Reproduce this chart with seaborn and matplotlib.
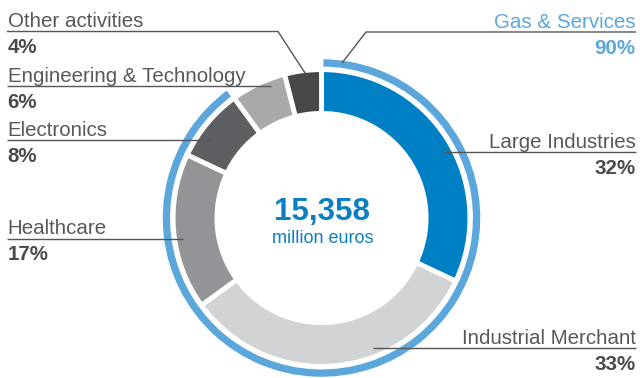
import matplotlib
matplotlib.use("Agg")
import matplotlib.pyplot as plt
import seaborn as sns

# Revenue breakdown by activity (share of total, %)
segments = ["Large Industries", "Industrial Merchant", "Healthcare",
            "Electronics", "Engineering & Technology", "Other activities"]
shares = [32, 33, 17, 8, 6, 4]
segment_colors = ["#0080c4", "#d2d3d5", "#939498", "#5e5f62", "#a8a9ab", "#48484b"]

group_label = "Gas & Services"
group_share = 90
group_color = "#5ba7db"

total_value = "15,358"
total_unit = "million euros"

sns.set_theme(style="white")
plt.rcParams["font.family"] = ["Liberation Sans", "DejaVu Sans"]

W, H = 640, 378
fig = plt.figure(figsize=(W / 100, H / 100), dpi=100)
ax = fig.add_axes([0, 0, 1, 1])

def Y(py):
    # pixel rows are counted from the top
    return H - py

cx, cy = 321.5, Y(218)
edge = 3.5  # white separator width in points

ax.pie(shares, colors=sns.color_palette(segment_colors), startangle=90,
       counterclock=False, radius=148.4, center=(cx, cy), frame=True,
       wedgeprops=dict(width=43.8, edgecolor="white", linewidth=edge))

ax.pie([group_share, 100 - group_share], colors=[group_color, "none"],
       startangle=90, counterclock=False, radius=160.5, center=(cx, cy),
       frame=True,
       wedgeprops=dict(width=10.8, edgecolor="white", linewidth=2.5))

ax.set_xlim(0, W)
ax.set_ylim(0, H)
ax.set_aspect("equal")
ax.axis("off")

# Centre total
ax.text(cx + 1, Y(220), total_value, ha="center", va="baseline",
        fontsize=22.5, fontweight="bold", color="#0a7fc3")
ax.text(cx + 1, Y(243), total_unit, ha="center", va="baseline",
        fontsize=13, color="#0a7fc3")

name_color = "#58585a"
pct_color = "#4a4a4c"
line_color = "#555557"
fs = 14.8

def callout(name, pct, line_y, side, path, color_name=name_color, color_pct=pct_color):
    if side == "left":
        x, ha = 7.5, "left"
    else:
        x, ha = 635.5, "right"
    ax.text(x, Y(line_y - 4.5), name, ha=ha, va="baseline", fontsize=fs,
            color=color_name)
    ax.text(x, Y(line_y + 21.5), pct, ha=ha, va="baseline", fontsize=fs,
            fontweight="bold", color=color_pct)
    xs = [p[0] for p in path]
    ys = [Y(p[1]) for p in path]
    ax.plot(xs, ys, color=line_color, lw=1.0, solid_capstyle="butt")

callout(segments[5], f"{shares[5]}%", 31.5, "left",
        [(7, 31.5), (278, 31.5), (307, 76)])
callout(segments[4], f"{shares[4]}%", 86, "left",
        [(7, 86), (271, 86)])
callout(segments[3], f"{shares[3]}%", 140, "left",
        [(7, 140), (210, 140)])
callout(segments[2], f"{shares[2]}%", 239, "left",
        [(7, 239), (183, 239)])
callout(group_label, f"{group_share}%", 32, "right",
        [(636, 32), (366, 32), (342, 63)],
        color_name=group_color, color_pct=group_color)
callout(segments[0], f"{shares[0]}%", 152, "right",
        [(636, 152), (443, 152)])
callout(segments[1], f"{shares[1]}%", 348, "right",
        [(636, 348), (373, 348)])

fig.savefig("out.png", dpi=100, facecolor="white")
